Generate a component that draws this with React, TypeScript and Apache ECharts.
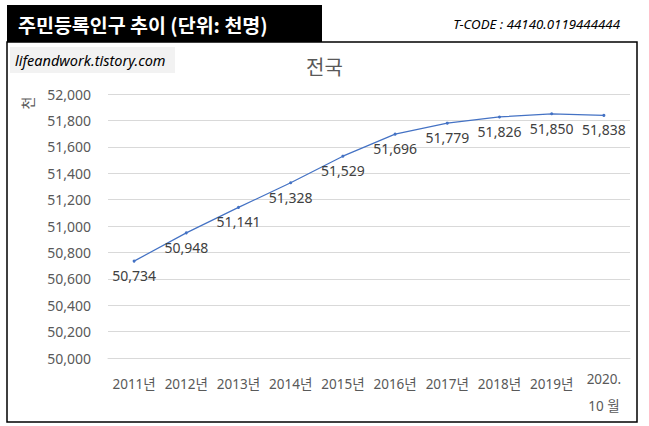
import React, { useEffect, useRef } from "react";
import * as echarts from "echarts";

const categories = ["2011년", "2012년", "2013년", "2014년", "2015년", "2016년", "2017년", "2018년", "2019년", "2020.\n10 월"];
const population = [50734, 50948, 51141, 51328, 51529, 51696, 51779, 51826, 51850, 51838];
const yMin = 50000;
const yMax = 52000;
const yStep = 200;

const FONT = "'Noto Sans', 'Noto Sans CJK KR', sans-serif";
const KFONT = "'Noto Sans CJK KR', 'Noto Sans', sans-serif";

export default function App() {
  const ref = useRef<HTMLDivElement>(null);
  useEffect(() => {
    document.body.style.margin = "0";
    const chart = echarts.init(ref.current!, null, { renderer: "svg" });
    chart.setOption({
      animation: false,
      backgroundColor: "#ffffff",
      textStyle: { fontFamily: FONT },
      title: {
        text: "전국",
        left: "center",
        top: 51,
        textStyle: { fontSize: 20, fontWeight: "normal", color: "#595959", fontFamily: KFONT },
      },
      grid: { left: 108, right: 19, top: 94, bottom: 66, containLabel: false },
      xAxis: {
        type: "category",
        data: categories,
        boundaryGap: true,
        axisLine: { show: true, lineStyle: { color: "#d9d9d9" } },
        axisTick: { show: false },
        axisLabel: {
          interval: 0,
          hideOverlap: false,
          margin: 14,
          fontSize: 13.5,
          lineHeight: 24,
          color: "#595959",
          fontFamily: FONT,
          formatter: (v: string) => {
            if (v.indexOf("\n") >= 0) {
              const parts = v.split("\n");
              return "{a|" + parts[0] + "}\n{b|" + parts[1] + "}";
            }
            return v;
          },
          rich: {
            a: { fontSize: 13.5, lineHeight: 14, color: "#595959", fontFamily: FONT },
            b: { fontSize: 13.5, lineHeight: 40, color: "#595959", fontFamily: FONT },
          },
        },
      },
      yAxis: {
        type: "value",
        min: yMin,
        max: yMax,
        interval: yStep,
        axisLine: { show: false },
        axisTick: { show: false },
        splitLine: { lineStyle: { color: "#d9d9d9", width: 1 } },
        axisLabel: {
          margin: 17,
          fontSize: 14,
          color: "#595959",
          fontFamily: FONT,
          formatter: (v: number) => v.toLocaleString("en-US"),
        },
      },
      series: [
        {
          type: "line",
          data: population,
          symbol: "circle",
          symbolSize: 3,
          lineStyle: { color: "#4472C4", width: 1.2 },
          itemStyle: { color: "#4472C4" },
          label: {
            show: true,
            position: "bottom",
            distance: 6,
            fontSize: 14,
            color: "#404040",
            fontFamily: FONT,
            formatter: (p: any) => Number(p.value).toLocaleString("en-US"),
          },
        },
      ],
      graphic: [
        {
          type: "rect",
          shape: { x: 7, y: 42, width: 630, height: 380 },
          style: { fill: "none", stroke: "#000000", lineWidth: 1.5 },
          z: 100,
        },
        {
          type: "rect",
          shape: { x: 7, y: 5, width: 315, height: 37 },
          style: { fill: "#000000" },
          z: 100,
        },
        {
          type: "text",
          x: 18,
          y: 24,
          style: {
            text: "주민등록인구 추이 (단위: 천명)",
            fill: "#ffffff",
            font: "bold 19.5px " + KFONT,
            verticalAlign: "middle",
          },
          z: 101,
        },
        {
          type: "text",
          x: 620,
          y: 24,
          style: {
            text: "T-CODE : 44140.0119444444",
            fill: "#000000",
            font: "italic 13.3px " + FONT,
            align: "right",
            verticalAlign: "middle",
          },
          z: 101,
        },
        {
          type: "rect",
          shape: { x: 10, y: 47, width: 165, height: 26 },
          style: { fill: "#f2f2f2" },
          z: 100,
        },
        {
          type: "text",
          x: 15,
          y: 60,
          style: {
            text: "lifeandwork.tistory.com",
            fill: "#000000",
            font: "italic 14.5px " + FONT,
            verticalAlign: "middle",
          },
          z: 101,
        },
        {
          type: "text",
          x: 27,
          y: 103,
          rotation: Math.PI / 2,
          style: {
            text: "천",
            fill: "#595959",
            font: "14px " + KFONT,
            align: "center",
            verticalAlign: "middle",
          },
          z: 101,
        },
      ],
    });
    return () => chart.dispose();
  }, []);
  return <div ref={ref} style={{ width: 649, height: 426 }} />;
}
